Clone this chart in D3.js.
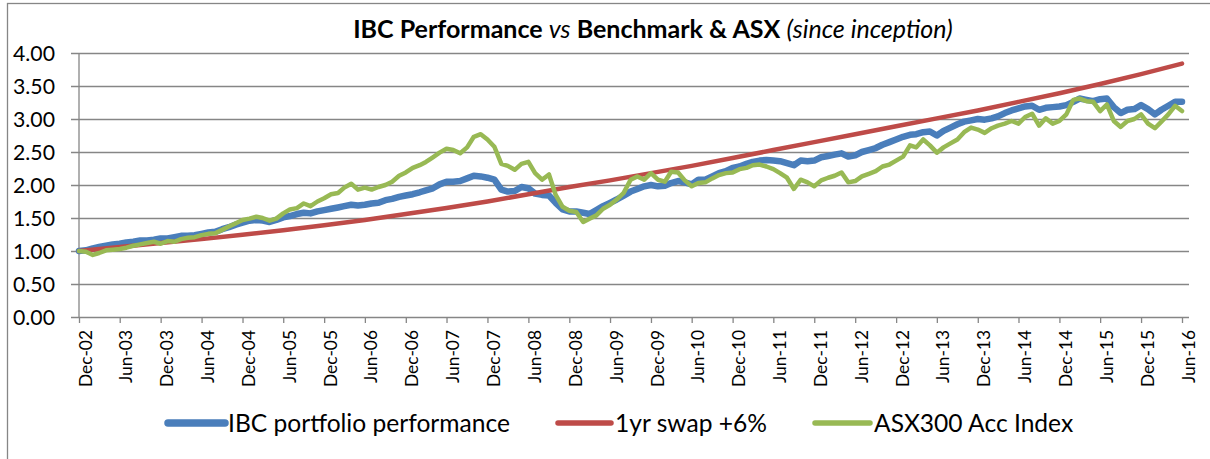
<!DOCTYPE html>
<html>
<head>
<meta charset="utf-8">
<script src="https://cdn.jsdelivr.net/npm/d3@7"></script>
<style>
body { margin: 0; background: #fff; }
svg { display: block; font-family: Lato, "Open Sans", sans-serif; }
</style>
</head>
<body>
<script>
// data (monthly from Dec-02, swap benchmark half-yearly)
var tickLabels = ["Dec-02","Jun-03","Dec-03","Jun-04","Dec-04","Jun-05","Dec-05","Jun-06",
  "Dec-06","Jun-07","Dec-07","Jun-08","Dec-08","Jun-09","Dec-09","Jun-10","Dec-10","Jun-11",
  "Dec-11","Jun-12","Dec-12","Jun-13","Dec-13","Jun-14","Dec-14","Jun-15","Dec-15","Jun-16"];
var yTicks = [0, 0.5, 1, 1.5, 2, 2.5, 3, 3.5, 4];
var seriesNames = ["IBC portfolio performance", "1yr swap +6%", "ASX300 Acc Index"];

var ibc = [
  1.00,1.01,1.04,1.06,1.08,1.10,1.11,1.13,1.14,1.16,1.16,1.17,
  1.19,1.19,1.21,1.23,1.23,1.24,1.26,1.28,1.29,1.33,1.36,1.40,
  1.43,1.46,1.47,1.46,1.44,1.47,1.51,1.53,1.56,1.58,1.57,1.60,
  1.62,1.64,1.66,1.68,1.70,1.69,1.70,1.72,1.73,1.77,1.79,1.82,
  1.84,1.86,1.89,1.92,1.95,2.01,2.05,2.05,2.06,2.10,2.14,2.13,
  2.11,2.08,1.93,1.90,1.91,1.97,1.95,1.87,1.85,1.84,1.73,1.63,
  1.60,1.60,1.58,1.56,1.62,1.68,1.73,1.78,1.84,1.90,1.94,1.98,
  2.00,1.98,1.99,2.03,2.06,2.04,2.01,2.08,2.08,2.13,2.18,2.21,
  2.26,2.28,2.32,2.35,2.37,2.38,2.37,2.36,2.33,2.30,2.37,2.36,
  2.37,2.42,2.44,2.46,2.48,2.43,2.45,2.50,2.53,2.56,2.61,2.65,
  2.69,2.73,2.76,2.77,2.80,2.81,2.75,2.82,2.87,2.92,2.96,2.98,
  3.00,2.99,3.01,3.04,3.09,3.13,3.16,3.19,3.20,3.14,3.17,3.18,
  3.19,3.21,3.26,3.31,3.29,3.27,3.30,3.31,3.18,3.09,3.14,3.15,
  3.21,3.15,3.07,3.14,3.20,3.26,3.26];

var asx = [
  1.00,0.99,0.94,0.97,1.01,1.02,1.03,1.05,1.08,1.10,1.12,1.14,
  1.11,1.15,1.14,1.18,1.20,1.21,1.24,1.26,1.27,1.32,1.37,1.42,
  1.47,1.49,1.52,1.50,1.46,1.49,1.57,1.63,1.65,1.72,1.68,1.75,
  1.80,1.86,1.88,1.96,2.02,1.93,1.96,1.93,1.97,2.00,2.05,2.14,
  2.19,2.26,2.30,2.35,2.42,2.49,2.55,2.53,2.48,2.57,2.73,2.77,
  2.69,2.58,2.32,2.29,2.23,2.32,2.35,2.18,2.08,2.16,1.85,1.67,
  1.61,1.59,1.44,1.49,1.54,1.64,1.70,1.78,1.88,2.08,2.13,2.08,
  2.18,2.08,2.05,2.20,2.19,2.07,1.98,2.03,2.04,2.10,2.15,2.18,
  2.19,2.24,2.26,2.30,2.31,2.28,2.24,2.18,2.11,1.94,2.08,2.04,
  1.98,2.07,2.11,2.14,2.19,2.04,2.06,2.13,2.17,2.21,2.28,2.31,
  2.37,2.43,2.60,2.57,2.69,2.60,2.49,2.57,2.63,2.69,2.80,2.87,
  2.84,2.79,2.86,2.90,2.93,2.97,2.93,3.03,3.08,2.90,3.01,2.93,
  2.97,3.07,3.29,3.31,3.27,3.26,3.12,3.22,2.97,2.88,2.97,3.00,
  3.07,2.93,2.86,2.96,3.07,3.20,3.12];

// benchmark, one value per tick label
var swap = [1.00,1.06,1.12,1.18,1.245,1.315,1.39,1.47,1.56,1.65,1.75,1.86,1.97,2.07,
  2.18,2.29,2.41,2.53,2.65,2.77,2.89,3.01,3.13,3.26,3.39,3.53,3.68,3.84];

var colors = ["#4a7ebb", "#be4b48", "#98b954"];
var widths = [6.5, 4.5, 4.5];

var parse = d3.timeParse("%b-%y");
var tickDates = tickLabels.map(parse);
var months = d3.timeMonth.range(tickDates[0], d3.timeMonth.offset(tickDates[tickDates.length - 1], 1));

var series = [
  ibc.map(function(v, i) { return {date: months[i], value: v}; }),
  swap.map(function(v, i) { return {date: tickDates[i], value: v}; }),
  asx.map(function(v, i) { return {date: months[i], value: v}; })
];

var W = 1210, H = 459;
var plot = {left: 79, right: 1189, top: 53, bottom: 317};

var svg = d3.select("body").append("svg").attr("width", W).attr("height", H);

// chart border
svg.append("rect").attr("x", 7.5).attr("y", 3.5).attr("width", 1215).attr("height", 470)
  .attr("fill", "#fff").attr("stroke", "#868686").attr("stroke-width", 1.3);

var x = d3.scaleTime().domain([tickDates[0], tickDates[tickDates.length - 1]]).range([79, 1182]);
var y = d3.scaleLinear().domain([0, 4]).range([plot.bottom, plot.top]);

// font size that gives a text element the target width (fonts differ from the original)
function fitSize(node, base, target) {
  var w = node.getBBox().width;
  return base * target / w;
}

// y axis with gridlines
var gy = svg.append("g").attr("transform", "translate(71,0)")
  .call(d3.axisLeft(y).tickValues(yTicks).tickFormat(d3.format(".2f"))
    .tickSize(-(plot.right - 71)).tickPadding(16));
gy.select(".domain").remove();
gy.selectAll(".tick line").attr("stroke", "#868686").attr("stroke-width", 1.3);
gy.attr("font-family", null).attr("font-size", 20);
gy.selectAll("text").attr("fill", "#000").attr("dy", "0.35em");
var yfs = fitSize(gy.selectAll("text").filter(function(d) { return d === 4; }).node(), 20, 42);
gy.attr("font-size", yfs);

svg.append("line").attr("x1", plot.left).attr("x2", plot.left)
  .attr("y1", plot.top).attr("y2", plot.bottom)
  .attr("stroke", "#868686").attr("stroke-width", 1.3);

// x axis
var gx = svg.append("g").attr("transform", "translate(0," + plot.bottom + ")")
  .call(d3.axisBottom(x).tickValues(tickDates).tickFormat(function(d, i) { return tickLabels[i]; })
    .tickSize(6));
gx.select(".domain").remove();
gx.selectAll(".tick line").attr("stroke", "#868686").attr("stroke-width", 1.3);
gx.attr("font-family", null).attr("font-size", 18);
gx.selectAll("text")
  .attr("fill", "#000")
  .attr("transform", "rotate(-90)")
  .attr("x", -13)
  .attr("y", 6)
  .attr("dy", "0.35em")
  .style("text-anchor", "end");
var xfs = fitSize(gx.select("text").node(), 18, 57);
gx.attr("font-size", xfs);

// lines
var line = d3.line()
  .x(function(d) { return x(d.date); })
  .y(function(d) { return y(d.value); });

svg.selectAll(".series").data(series).enter().append("path")
  .attr("class", "series")
  .attr("d", line)
  .attr("fill", "none")
  .attr("stroke", function(d, i) { return colors[i]; })
  .attr("stroke-width", function(d, i) { return widths[i]; })
  .attr("stroke-linejoin", "round")
  .attr("stroke-linecap", "round");

// title
var title = svg.append("text").attr("x", 653).attr("y", 38)
  .attr("text-anchor", "middle").attr("font-size", 20).style("white-space", "pre");
title.append("tspan").attr("font-weight", "bold").text("IBC Performance ");
title.append("tspan").attr("font-style", "italic").text("vs");
title.append("tspan").attr("font-weight", "bold").text(" Benchmark & ASX ");
title.append("tspan").attr("font-style", "italic").text("(since inception)");
title.attr("font-size", fitSize(title.node(), 20, 600));

// legend
var legendPos = [[168, 225, 228], [558, 611, 615], [815, 870, 874]];
var lg = svg.selectAll(".legend").data(seriesNames).enter().append("g").attr("class", "legend");
lg.append("line")
  .attr("x1", function(d, i) { return legendPos[i][0]; })
  .attr("x2", function(d, i) { return legendPos[i][1]; })
  .attr("y1", 423).attr("y2", 423)
  .attr("stroke", function(d, i) { return colors[i]; })
  .attr("stroke-width", function(d, i) { return widths[i] + 1; })
  .attr("stroke-linecap", "round");
var lt = lg.append("text")
  .attr("x", function(d, i) { return legendPos[i][2]; })
  .attr("y", 423).attr("dy", "0.35em")
  .attr("font-size", 22)
  .text(function(d) { return d; });
lt.attr("font-size", fitSize(lt.node(), 22, 282));
</script>
</body>
</html>
